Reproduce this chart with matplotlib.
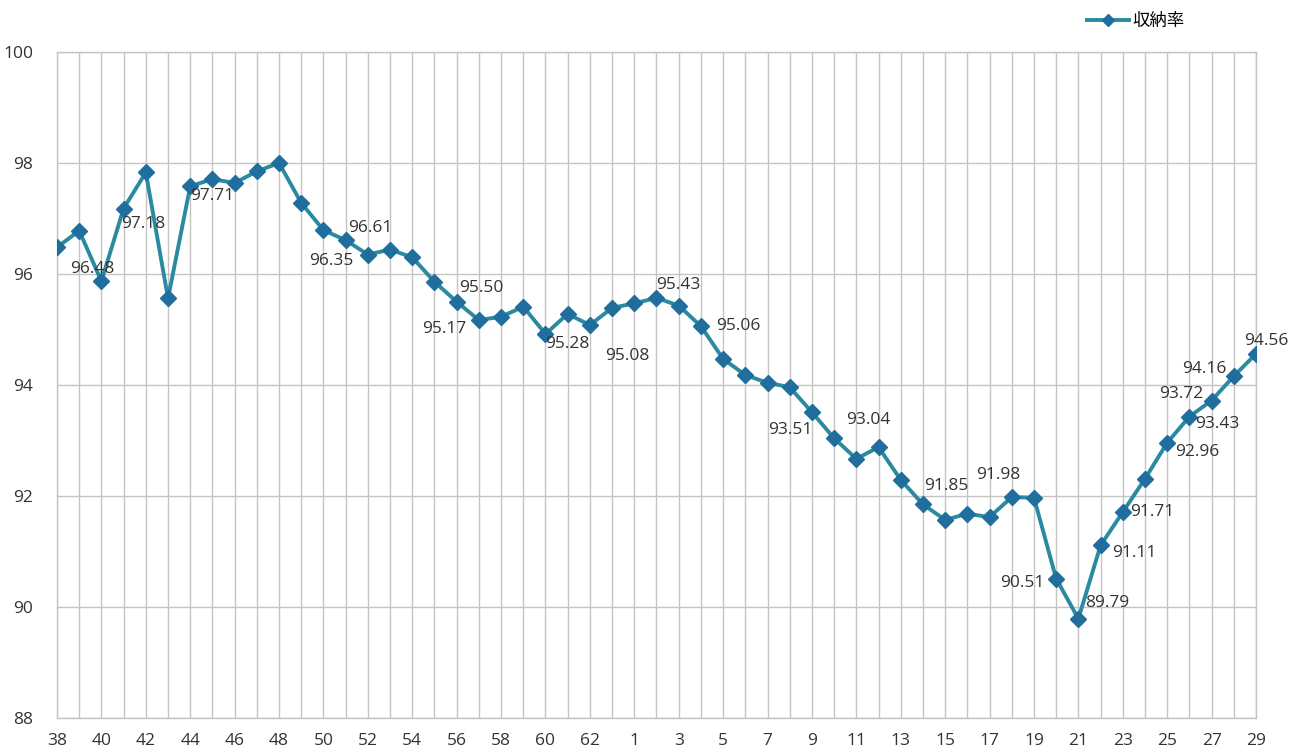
import matplotlib
matplotlib.use("Agg")
import matplotlib.pyplot as plt

# ---- data ----
showa_years = list(range(38, 64))
heisei_years = list(range(1, 30))
categories = [str(y) for y in showa_years] + [str(y) for y in heisei_years]

rates = [
    96.48, 96.78, 95.87, 97.18, 97.83, 95.56, 97.58, 97.71, 97.64, 97.85,
    98.00, 97.28, 96.79, 96.61, 96.35, 96.44, 96.30, 95.86, 95.50, 95.17,
    95.23, 95.41, 94.92, 95.28, 95.08, 95.39, 95.47, 95.57, 95.43, 95.06,
    94.47, 94.18, 94.04, 93.96, 93.51, 93.04, 92.67, 92.88, 92.29, 91.85,
    91.57, 91.68, 91.62, 91.98, 91.97, 90.51, 89.79, 91.11, 91.71, 92.31,
    92.96, 93.43, 93.72, 94.16, 94.56,
]

series_name = "収納率"
labeled_idx = [0, 3, 7, 13, 14, 18, 19, 23, 24, 28, 29, 34, 35, 39, 43,
               45, 46, 47, 48, 50, 51, 52, 53, 54]
y_ticks = [88, 90, 92, 94, 96, 98, 100]

# ---- styling: label offsets in pixels (dx right, dy down) ----
label_offsets = {
    0: (35, 22), 3: (20, 15), 7: (0, 17), 13: (25, -12), 14: (-37, 6),
    18: (25, -14), 19: (-35, 9), 23: (0, 30), 24: (37, 31), 28: (0, -21),
    29: (37, 0), 34: (-22, 18), 35: (34, -18), 39: (23, -18), 43: (-14, -22),
    45: (-34, 4), 46: (29, -16), 47: (34, 8), 48: (29, 0), 50: (30, 9),
    51: (28, 7), 52: (-30, -7), 53: (-29, -7), 54: (10, -13),
}

plt.rcParams['font.family'] = ['Open Sans', 'Noto Sans CJK JP', 'DejaVu Sans']

fig = plt.figure(figsize=(12.92, 7.49), dpi=100)
ax = fig.add_axes([57 / 1292, 1 - 718 / 749, (1256 - 57) / 1292, (718 - 52) / 749])

x = list(range(len(categories)))
line, = ax.plot(x, rates, color='#2a8aa0', lw=2.8, marker='D', markersize=8,
                markerfacecolor='#1f6e9e', markeredgecolor='#1f6e9e',
                label=series_name, zorder=3)

ax.set_xlim(0, len(categories) - 1)
ax.set_ylim(88, 100)
ax.set_yticks(y_ticks)
ax.set_yticklabels([str(t) for t in y_ticks])
ax.set_xticks(x)
ax.set_xticklabels([c if i % 2 == 0 else '' for i, c in enumerate(categories)])

ax.grid(True, color='#c4c4c4', lw=1.0)
ax.set_axisbelow(True)
for s in ax.spines.values():
    s.set_color('#c4c4c4')
    s.set_linewidth(1.0)
ax.tick_params(length=0, labelsize=12.5, colors='#333333')
ax.tick_params(axis='y', pad=17)
ax.tick_params(axis='x', pad=11)

for i in labeled_idx:
    dx, dy = label_offsets[i]
    ax.annotate(f"{rates[i]:.2f}", (i, rates[i]), xytext=(dx, -dy),
                textcoords='offset pixels', ha='center', va='center',
                fontsize=12.5, color='#333333', zorder=4)

fig.legend(handles=[line], labels=[series_name], loc='center',
           bbox_to_anchor=(1136 / 1292, 1 - 21 / 749), frameon=False,
           handlelength=2.4, markerscale=0.75, handletextpad=0.2,
           prop={'family': ['Noto Sans CJK JP', 'DejaVu Sans'], 'size': 12.5})

fig.savefig('out.png', dpi=100, facecolor='white')
